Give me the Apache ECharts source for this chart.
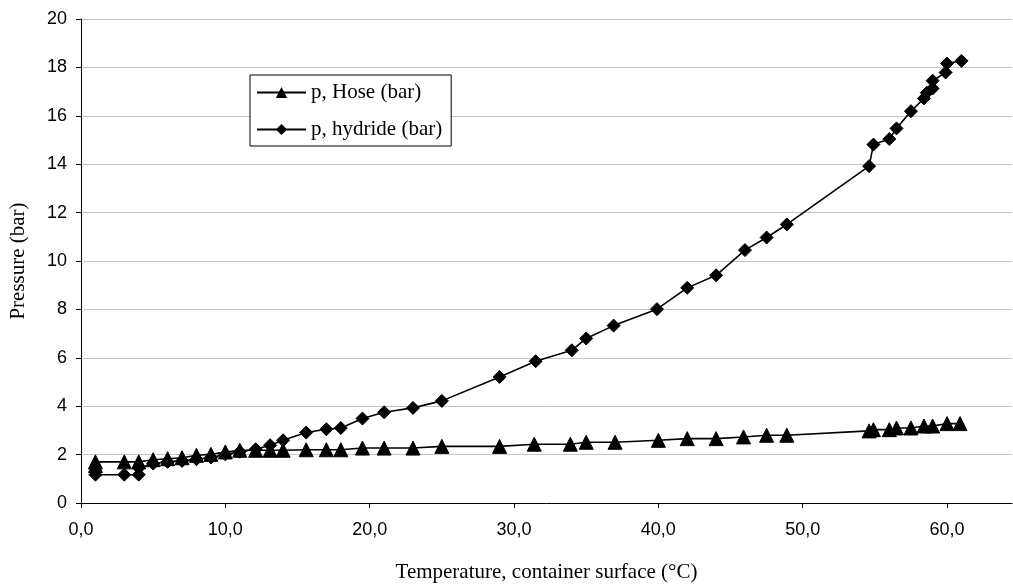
<!DOCTYPE html>
<html>
<head>
<meta charset="utf-8">
<script src="https://cdn.jsdelivr.net/npm/echarts@6/dist/echarts.min.js"></script>
<style>
  html, body { margin: 0; padding: 0; background: #fff; }
  #chart { width: 1013px; height: 586px; }
</style>
</head>
<body>
<div id="chart"></div>
<script>
// Surface temperature (°C) and pressure (bar) readings
const hoseTemp = [1.0, 1.0, 3.0, 4.0, 5.0, 6.0, 7.0, 8.0, 9.0, 10.0, 11.0, 12.1, 13.1, 14.0,
  15.6, 17.0, 18.0, 19.5, 21.0, 23.0, 25.0, 29.0, 31.4, 33.9, 35.0, 37.0, 40.0, 42.0, 44.0,
  45.9, 47.5, 48.9, 54.6, 54.9, 56.0, 56.5, 57.5, 58.4, 59.0, 60.0, 60.9];
const hosePressure = [1.55, 1.70, 1.70, 1.70, 1.79, 1.83, 1.87, 1.97, 2.01, 2.11, 2.18, 2.18, 2.18, 2.18,
  2.20, 2.20, 2.20, 2.27, 2.27, 2.27, 2.34, 2.34, 2.43, 2.43, 2.51, 2.51, 2.59, 2.66, 2.66,
  2.73, 2.80, 2.80, 2.98, 3.03, 3.03, 3.10, 3.10, 3.18, 3.18, 3.28, 3.28];

const hydrideTemp = [1.0, 3.0, 4.0, 4.0, 5.0, 6.0, 7.0, 8.0, 9.0, 10.0, 11.0, 12.1, 13.1, 14.0,
  15.6, 17.0, 18.0, 19.5, 21.0, 23.0, 25.0, 29.0, 31.5, 34.0, 35.0, 36.9, 39.9, 42.0, 44.0,
  46.0, 47.5, 48.9, 54.6, 54.9, 56.0, 56.5, 57.5, 58.4, 58.6, 59.0, 59.0, 59.9, 60.0, 61.0];
const hydridePressure = [1.17, 1.17, 1.17, 1.45, 1.63, 1.70, 1.74, 1.81, 1.88, 2.01, 2.12, 2.22, 2.39, 2.59,
  2.91, 3.05, 3.10, 3.49, 3.75, 3.93, 4.22, 5.21, 5.86, 6.31, 6.80, 7.33, 8.01, 8.89, 9.41,
  10.45, 10.97, 11.51, 13.92, 14.81, 15.04, 15.48, 16.19, 16.72, 16.95, 17.13, 17.45, 17.79, 18.16, 18.27];

const seriesNames = ['p, Hose (bar)', 'p, hydride (bar)'];
const xTitle = 'Temperature, container surface (°C)';
const yTitle = 'Pressure (bar)';

const zip = (xs, ys) => xs.map((x, i) => [x, ys[i]]);

const serif = 'Liberation Serif, Times New Roman, serif';
const sans = 'Liberation Sans, Arial, sans-serif';

const chart = echarts.init(document.getElementById('chart'), null, { renderer: 'canvas' });

chart.setOption({
  animation: false,
  backgroundColor: '#ffffff',
  grid: {
    left: 81, top: 19, width: 931, height: 484,
    containLabel: false,
    outerBoundsMode: 'none'
  },
  legend: {
    orient: 'vertical',
    left: 250,
    top: 75,
    padding: [7, 9, 6, 6],
    itemGap: 16,
    itemWidth: 49,
    itemHeight: 14,
    borderColor: '#000',
    borderWidth: 1,
    backgroundColor: '#fff',
    textStyle: { fontFamily: serif, fontSize: 21, color: '#000' },
    data: seriesNames
  },
  xAxis: {
    type: 'value',
    min: 0,
    max: 64.5,
    interval: 10,
    name: xTitle,
    nameLocation: 'middle',
    nameGap: 59,
    nameTextStyle: { fontFamily: serif, fontSize: 21, color: '#000' },
    axisLine: { show: true, onZero: false, lineStyle: { color: '#000', width: 1 } },
    axisTick: { show: true, inside: false, length: 5, lineStyle: { color: '#000' } },
    axisLabel: {
      margin: 18,
      fontFamily: sans,
      fontSize: 18,
      color: '#000',
      showMaxLabel: false,
      formatter: v => v.toFixed(1).replace('.', ',')
    },
    splitLine: { show: false }
  },
  yAxis: {
    type: 'value',
    min: 0,
    max: 20,
    interval: 2,
    name: yTitle,
    nameLocation: 'middle',
    nameGap: 52,
    nameRotate: 90,
    nameTextStyle: { fontFamily: serif, fontSize: 21, color: '#000' },
    axisLine: { show: true, lineStyle: { color: '#000', width: 1 } },
    axisTick: { show: true, inside: false, length: 5, lineStyle: { color: '#000' } },
    axisLabel: { margin: 14, fontFamily: sans, fontSize: 18, color: '#000' },
    splitLine: { show: true, lineStyle: { color: '#c4c4c4', width: 1 } }
  },
  series: [
    {
      name: seriesNames[0],
      type: 'line',
      data: zip(hoseTemp, hosePressure),
      symbol: 'triangle',
      symbolSize: 14,
      showAllSymbol: true,
      lineStyle: { color: '#000', width: 1.6 },
      itemStyle: { color: '#000', borderColor: '#000' },
      z: 3
    },
    {
      name: seriesNames[1],
      type: 'line',
      data: zip(hydrideTemp, hydridePressure),
      symbol: 'diamond',
      symbolSize: 13,
      showAllSymbol: true,
      lineStyle: { color: '#000', width: 1.6 },
      itemStyle: { color: '#000', borderColor: '#000' },
      z: 4
    }
  ]
});
</script>
</body>
</html>
